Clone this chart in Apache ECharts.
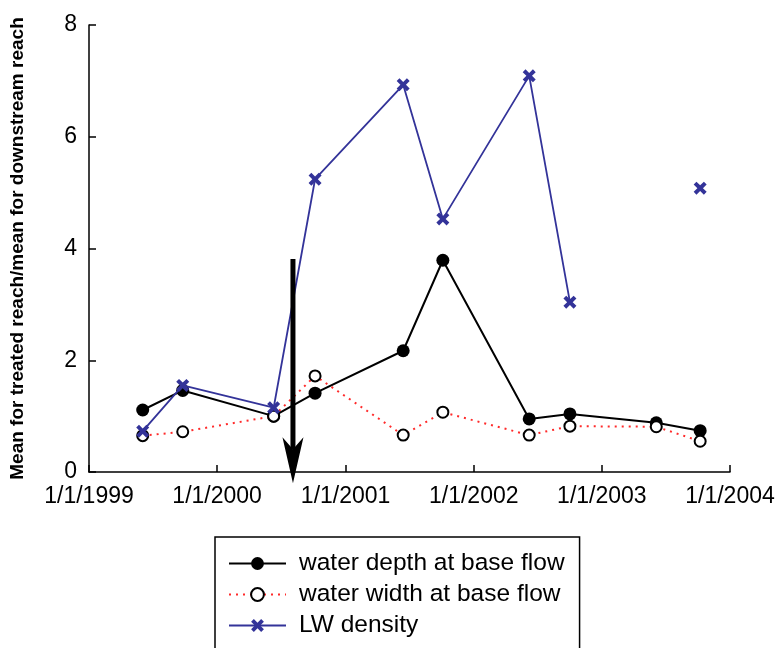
<!DOCTYPE html>
<html>
<head>
<meta charset="utf-8">
<script src="https://cdn.jsdelivr.net/npm/echarts@6/dist/echarts.min.js"></script>
<style>html,body{margin:0;padding:0;background:#fff;}#chart{width:779px;height:648px;}</style>
</head>
<body>
<div id="chart"></div>
<script>
// Sampling dates
var dates = ['1999-06-03', '1999-09-25', '2000-06-10', '2000-10-06', '2001-06-14', '2001-10-05', '2002-06-08', '2002-10-02', '2003-06-05', '2003-10-08'];
// Series values
var waterDepth = [1.11, 1.46, 1.00, 1.41, 2.17, 3.79, 0.95, 1.04, 0.88, 0.74];
var waterWidth = [0.65, 0.72, 1.00, 1.72, 0.66, 1.07, 0.66, 0.82, 0.81, 0.55];
var lwDensity = [0.73, 1.55, 1.15, 5.24, 6.93, 4.53, 7.09, 3.04, null, 5.08];
var seriesNames = ['water depth at base flow', 'water width at base flow', 'LW density'];
// Treatment arrow (date, from value, to value at tip)
var treatmentDate = '2000-08-04';
var arrowFrom = 3.81;
var arrowTo = -0.2;
var yTicks = [0, 2, 4, 6, 8];

function pairs(vals) {
  return dates.map(function (d, i) { return [d, vals[i]]; });
}

var font = 'Liberation Sans, Arial, Helvetica, sans-serif';
var crossPath = 'path://M0,3 L3,0 L7,4 L11,0 L14,3 L10,7 L14,11 L11,14 L7,10 L3,14 L0,11 L4,7 Z';

function renderArrow(params, api) {
  var top = api.coord([api.value(0), api.value(1)]);
  var tip = api.coord([api.value(0), api.value(2)]);
  var headLen = 46, halfW = 10.5, notch = 34;
  return {
    type: 'group',
    children: [
      {
        type: 'line',
        shape: {x1: top[0], y1: top[1], x2: tip[0], y2: tip[1] - notch},
        style: {stroke: '#000', lineWidth: 5}
      },
      {
        type: 'polygon',
        shape: {points: [
          [tip[0], tip[1]],
          [tip[0] - halfW, tip[1] - headLen],
          [tip[0], tip[1] - notch],
          [tip[0] + halfW, tip[1] - headLen]
        ]},
        style: {fill: '#000'}
      }
    ]
  };
}

var chart = echarts.init(document.getElementById('chart'), null, {renderer: 'canvas'});
chart.setOption({
  animation: false,
  backgroundColor: '#fff',
  grid: {left: 89, right: 49, top: 25, bottom: 176, containLabel: false},
  legend: {
    data: seriesNames,
    orient: 'vertical',
    left: 215,
    top: 537,
    height: 300,
    padding: [14, 15, 60, 13],
    itemWidth: 57,
    itemHeight: 16,
    itemGap: 6,
    borderColor: '#000',
    borderWidth: 1.5,
    textStyle: {fontSize: 24.5, color: '#000', fontFamily: font, lineHeight: 24, padding: [0, 0, 0, 8]}
  },
  xAxis: {
    type: 'time',
    min: '1999-01-01',
    max: '2004-01-01',
    minInterval: 365 * 24 * 3600 * 1000,
    maxInterval: 366 * 24 * 3600 * 1000,
    splitLine: {show: false},
    axisLine: {lineStyle: {color: '#000', width: 1.5}},
    axisTick: {inside: true, length: 7, lineStyle: {color: '#000', width: 1.5}},
    minorTick: {show: false},
    axisLabel: {
      fontSize: 23, color: '#000', fontFamily: font, margin: 13,
      showMinLabel: true, showMaxLabel: true, hideOverlap: false,
      formatter: function (v) {
        var d = new Date(v);
        return (d.getMonth() + 1) + '/' + d.getDate() + '/' + d.getFullYear();
      }
    }
  },
  yAxis: {
    type: 'value',
    min: yTicks[0],
    max: yTicks[yTicks.length - 1],
    interval: 2,
    name: 'Mean for treated reach/mean for downstream reach',
    nameLocation: 'middle',
    nameGap: 62,
    nameTextStyle: {fontSize: 19, fontWeight: 'bold', color: '#000', fontFamily: font},
    splitLine: {show: false},
    axisLine: {show: true, lineStyle: {color: '#000', width: 1.5}},
    axisTick: {show: true, inside: true, length: 7, lineStyle: {color: '#000', width: 1.5}},
    axisLabel: {fontSize: 23, color: '#000', fontFamily: font, margin: 12}
  },
  series: [
    {
      name: seriesNames[0],
      type: 'line',
      z: 3,
      data: pairs(waterDepth),
      symbol: 'circle',
      symbolSize: 13,
      itemStyle: {color: '#000'},
      lineStyle: {color: '#000', width: 2}
    },
    {
      name: seriesNames[1],
      type: 'line',
      z: 4,
      data: pairs(waterWidth),
      symbol: 'circle',
      symbolSize: 11,
      itemStyle: {color: '#fff', borderColor: '#000', borderWidth: 2},
      lineStyle: {color: '#ff2a2a', width: 2, type: [2, 5]}
    },
    {
      name: seriesNames[2],
      type: 'line',
      z: 5,
      data: pairs(lwDensity),
      connectNulls: false,
      symbol: crossPath,
      symbolSize: 13,
      itemStyle: {color: '#333399'},
      lineStyle: {color: '#333399', width: 1.8}
    },
    {
      name: 'treatment',
      type: 'custom',
      z: 6,
      clip: false,
      silent: true,
      renderItem: renderArrow,
      data: [[treatmentDate, arrowFrom, arrowTo]]
    }
  ]
});
</script>
</body>
</html>
